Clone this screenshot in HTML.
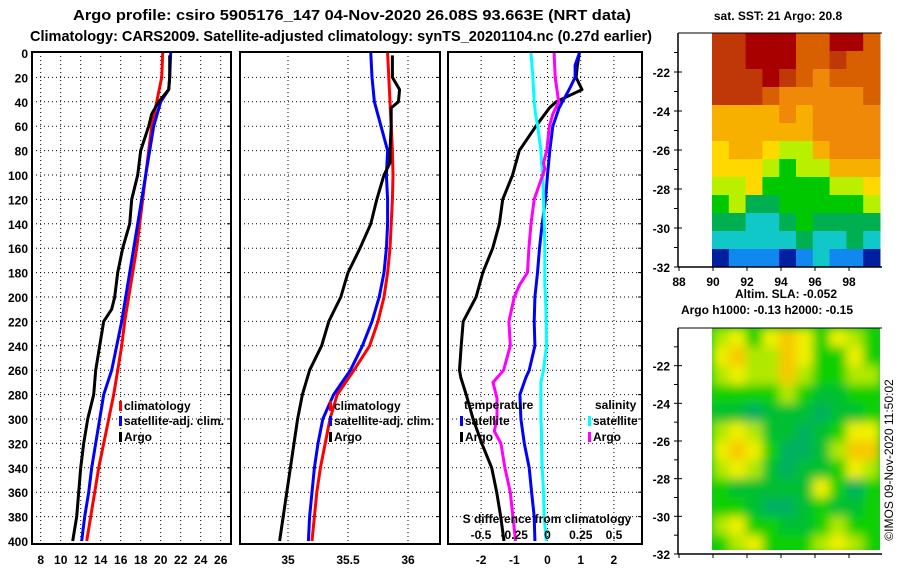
<!DOCTYPE html>
<html><head><meta charset="utf-8"><style>
html,body{margin:0;padding:0;background:#fff;}
svg{display:block;font-family:"Liberation Sans",Arial,sans-serif;font-weight:bold;}
</style></head><body>
<svg id="c" width="900" height="580" viewBox="0 0 900 580" xmlns="http://www.w3.org/2000/svg">
<defs><filter id="blur" x="-10%" y="-10%" width="120%" height="120%"><feGaussianBlur stdDeviation="5"/></filter><clipPath id="slaclip"><rect x="712" y="328" width="168" height="222"/></clipPath></defs>
<text x="73" y="20" textLength="558" lengthAdjust="spacingAndGlyphs" font-size="15">Argo profile: csiro 5905176_147 04-Nov-2020 26.08S 93.663E (NRT data)</text>
<text x="30" y="41" textLength="622" lengthAdjust="spacingAndGlyphs" font-size="15">Climatology: CARS2009. Satellite-adjusted climatology: synTS_20201104.nc (0.27d earlier)</text>
<g id="g"></g>
</svg>
<script>
// ---- data ----
const depths = [0,20,40,60,80,100,120,140,160,180,200,220,240,260,280,300,320,340,360,380,400];
const tempClim = [20.2,20.1,19.6,19.1,18.8,18.5,18.2,17.9,17.6,17.2,16.8,16.4,16.1,15.7,15.3,14.8,14.3,13.8,13.4,13.0,12.6];
const tempSatDepths = [0,20,30,40,60,80,100,120,140,160,180,200,220,240,260,280,300,320,340,360,380,400];
const tempSat = [21.0,20.9,20.8,20.0,19.3,18.9,18.5,18.1,17.7,17.3,16.9,16.5,16.1,15.6,15.1,14.3,13.9,13.5,13.1,12.8,12.4,12.1];
const tempArgoDepths = [2,20,30,40,50,60,80,100,120,140,160,180,200,210,220,240,260,280,300,320,340,360,380,400];
const tempArgo = [20.9,20.9,20.8,19.8,19.1,18.8,18.0,17.7,17.1,16.9,16.2,15.7,15.4,15.1,14.3,13.9,13.5,13.3,12.7,12.3,12.0,11.8,11.6,11.2];

const salDepths = [0,20,40,60,80,100,120,140,160,180,200,220,240,260,280,300,320,340,360,380,400];
const salSat  = [35.69,35.70,35.72,35.775,35.83,35.82,35.83,35.83,35.82,35.80,35.76,35.70,35.62,35.52,35.38,35.29,35.25,35.22,35.20,35.18,35.17];
const salClim = [35.83,35.84,35.85,35.86,35.87,35.875,35.87,35.86,35.85,35.83,35.80,35.75,35.68,35.55,35.41,35.35,35.31,35.27,35.24,35.22,35.20];
const salArgoDepths = [2,20,30,40,45,60,80,90,100,120,140,160,180,200,220,240,260,280,300,320,340,360,380,400];
const salArgo = [35.87,35.87,35.93,35.92,35.86,35.86,35.85,35.85,35.80,35.74,35.69,35.60,35.50,35.44,35.34,35.28,35.18,35.12,35.08,35.05,35.02,34.99,34.96,34.93];

const dDepths = [0,10,20,30,35,40,45,60,80,100,120,140,160,180,200,220,240,260,266,280,300,320,340,360,380,400];
const dTempArgo = [0.96,0.9,0.86,1.04,0.65,0.26,0.06,-0.35,-0.85,-1.05,-1.35,-1.45,-1.65,-1.95,-2.15,-2.54,-2.6,-2.65,-2.61,-2.45,-2.24,-1.98,-1.68,-1.53,-1.41,-1.31];
const dTempSat  = [0.96,0.83,0.83,0.65,0.55,0.45,0.35,0.16,0.07,0.0,-0.06,-0.16,-0.24,-0.3,-0.38,-0.4,-0.38,-0.55,-0.65,-0.83,-0.8,-0.7,-0.55,-0.48,-0.4,-0.38];
const sDepths = [0,20,40,50,60,80,90,95,100,120,140,160,180,190,200,220,240,260,270,283,300,310,320,340,360,380,400];
const dSalArgo = [0.05,0.058,0.084,0.04,0.014,-0.006,-0.03,-0.02,-0.036,-0.1,-0.124,-0.14,-0.15,-0.21,-0.25,-0.29,-0.28,-0.33,-0.41,-0.38,-0.38,-0.40,-0.35,-0.32,-0.28,-0.26,-0.24];
const dSalSat  = [-0.124,-0.11,-0.1,-0.09,-0.074,-0.05,-0.045,-0.04,-0.035,-0.03,-0.024,-0.02,-0.02,-0.02,-0.015,-0.01,-0.008,-0.03,-0.05,-0.05,-0.05,-0.045,-0.045,-0.04,-0.03,-0.025,-0.01];

const tempTicks = [8,10,12,14,16,18,20,22,24,26];
const salTicks = [35,35.5,36];
const salTickLabels = ["35","35.5","36"];
const diffTicks = [-2,-1,0,1,2];
const sdiffTicks = [-0.5,-0.25,0,0.25,0.5];
const sdiffLabels = ["-0.5","-0.25","0","0.25","0.5"];
const depthTicks = [0,20,40,60,80,100,120,140,160,180,200,220,240,260,280,300,320,340,360,380,400];

const sstGrid = [
[1,1,0,0,0,2,2,0,0,2],[1,1,0,0,0,2,2,1,2,2],[1,1,1,0,1,2,3,2,2,2],[1,1,1,2,3,3,3,3,3,2],
[4,4,4,4,3,4,3,3,3,3],[4,4,4,4,4,4,3,3,3,3],[5,4,4,5,6,6,4,3,3,3],[5,5,5,6,7,6,6,4,4,4],
[6,6,5,7,7,7,7,6,6,5],[7,6,8,8,7,7,7,7,7,6],[8,8,9,9,8,7,8,8,8,8],[9,9,9,9,9,8,9,9,8,9],
[11,10,10,10,11,10,9,10,10,11]];
const sstColors = ["#a80000","#c03808","#d86000","#f08808","#f8b000","#ffd800","#b8f000","#00c800","#00b050","#10c8c8","#1088f0","#0020a0"];
const slaGrid = [
[2,1,3,1,0,1,3,1,2,3],[1,0,2,2,0,1,3,3,1,3],[2,1,2,2,0,2,3,3,2,2],[3,3,3,3,2,3,4,4,3,3],
[4,4,5,4,4,4,5,4,4,3],[2,1,2,4,4,5,4,3,1,1],[1,0,1,3,5,5,4,2,0,0],[2,1,2,4,5,4,4,3,1,2],
[3,4,4,4,4,4,1,3,5,3],[3,3,4,5,5,4,3,4,4,3],[2,1,3,3,4,4,3,2,3,3],[3,2,1,3,3,3,2,1,2,3]];
const slaColors = ["#f8c800","#f0f000","#b0e800","#10d000","#00c030","#00b060"];
const mapLonTicks = [88,90,92,94,96,98];
const mapLatTicks = [-22,-24,-26,-28,-30,-32];

// ---- helpers ----
const NS="http://www.w3.org/2000/svg";
const G=document.getElementById('g');
function mk(tag,at,parent){const e=document.createElementNS(NS,tag);for(const k in at)e.setAttribute(k,at[k]);(parent||G).appendChild(e);return e;}
const TOP=52, BOT=544;
const yD = d => 53 + d*1.22;
const xT = t => 40.7 + (t-8)*10;
const xS = s => 288 + (s-35)*120;
const xDT = t => 547.5 + t*33.2;
const xDS = s => 547.5 + s*133;

function panel(name,x0,x1){
  for(const d of depthTicks){ if(d===0||d===400)continue;
    const l=mk('line',{x1:x0,x2:x1,y1:yD(d),y2:yD(d),stroke:'#000','stroke-width':1,'stroke-dasharray':'1,3'});
     
    const t1=mk('line',{x1:x1-4,x2:x1,y1:yD(d),y2:yD(d),stroke:'#000'});
     
  }
  const r=mk('rect',{x:x0,y:TOP,width:x1-x0,height:BOT-TOP,fill:'none',stroke:'#000','stroke-width':2});
   
}
function vgrid(name,xs){for(const x of xs){const l=mk('line',{x1:x,x2:x,y1:TOP,y2:BOT,stroke:'#000','stroke-width':1,'stroke-dasharray':'1,3'});
   }}
function line(name,ds,vs,fx,color){
  const pts=ds.map((d,i)=>fx(vs[i]).toFixed(1)+','+yD(d).toFixed(1)).join(' ');
  const p=mk('polyline',{points:pts,fill:'none',stroke:color,'stroke-width':3,'stroke-linejoin':'round'});
   
}
function txt(name,x,y,s,size,anchor,color){const t=mk('text',{x:x,y:y,'font-size':size||12,'text-anchor':anchor||'start',fill:color||'#000'});t.textContent=s;
   return t;}
function legend(name,x,y,color,label){
  const r=mk('rect',{x:x,y:y-9,width:3,height:10,fill:color});
   
  txt(name+'-label',x+5,y,label,12);
}

// panel 1 temperature
vgrid('temp',tempTicks.map(xT));
panel('temp-panel',32,231);
for(const d of depthTicks) txt('depth-tick-label',28,yD(d)+5,String(d),12,'end');
tempTicks.forEach(t=>txt('temp-tick-label',xT(t),564,String(t),12,'middle'));
line('temp-climatology-line',depths,tempClim,xT,'#ff0000');
line('temp-satellite-line',tempSatDepths,tempSat,xT,'#0000ff');
line('temp-argo-line',tempArgoDepths,tempArgo,xT,'#000');
legend('temp-legend-climatology',119,410,'#ff0000','climatology');
legend('temp-legend-satellite',119,425,'#0000ff','satellite-adj. clim.');
legend('temp-legend-argo',119,441,'#000','Argo');

// panel 2 salinity
vgrid('sal',salTicks.map(xS));
panel('sal-panel',240,440);
salTicks.forEach((s,i)=>txt('sal-tick-label',xS(s),564,salTickLabels[i],12,'middle'));
line('sal-climatology-line',salDepths,salClim,xS,'#ff0000');
line('sal-satellite-line',salDepths,salSat,xS,'#0000ff');
line('sal-argo-line',salArgoDepths,salArgo,xS,'#000');
legend('sal-legend-climatology',329,410,'#ff0000','climatology');
legend('sal-legend-satellite',329,425,'#0000ff','satellite-adj. clim.');
legend('sal-legend-argo',329,441,'#000','Argo');

// panel 3 differences
vgrid('diff',diffTicks.map(xDT));
panel('diff-panel',448,642);
diffTicks.forEach(t=>txt('diff-tick-label',xDT(t),564,String(t),12,'middle'));
line('diff-temp-argo-line',dDepths,dTempArgo,xDT,'#000');
line('diff-temp-satellite-line',dDepths,dTempSat,xDT,'#0000ff');
line('diff-sal-satellite-line',sDepths,dSalSat,xDS,'#00ffff');
line('diff-sal-argo-line',sDepths,dSalArgo,xDS,'#ff00ff');
txt('diff-legend-temperature-title',464,409,'temperature',12);
legend('diff-legend-temp-satellite',460,425,'#0000ff','satellite');
legend('diff-legend-temp-argo',460,441,'#000','Argo');
txt('diff-legend-salinity-title',595,409,'salinity',12);
legend('diff-legend-sal-satellite',588,425,'#00ffff','satellite');
legend('diff-legend-sal-argo',588,441,'#ff00ff','Argo');
txt('sdiff-axis-title',547,523,'S difference from climatology',12,'middle');
sdiffTicks.forEach((s,i)=>txt('sdiff-tick-label',xDS(s),539,sdiffLabels[i],12,'middle'));

// maps
const mx0=712,mx1=880;
const xLon = l => 713 + (l-90)*17;
function mapFrame(name,y0,y1){
  const yl = v => y0 + (-20 - v)*(y1-y0)/12;
  const f=mk('line',{x1:678,x2:678,y1:y0,y2:y1,stroke:'#000','stroke-width':1.5});
   
  const b=mk('line',{x1:678,x2:882,y1:y1,y2:y1,stroke:'#000','stroke-width':1.5});
   
  const tp=mk('line',{x1:678,x2:882,y1:y0,y2:y0,stroke:'#000','stroke-width':1});
   
  for(const v of mapLatTicks){
    const t=mk('line',{x1:674,x2:682,y1:yl(v),y2:yl(v),stroke:'#000'});
     
    txt(name+'-lat-label',670,yl(v)+5,String(v),12,'end');
  }
  for(const v of [-21,-23,-25,-27,-29,-31]){const t=mk('line',{x1:674,x2:678,y1:yl(v),y2:yl(v),stroke:'#000'});
     }
  for(const v of mapLonTicks){const t=mk('line',{x1:xLon(v),x2:xLon(v),y1:y1,y2:y1+4,stroke:'#000'});
     }
}
function heat(name,grid,colors,y0,y1,parent){
  const rows=grid.length, cols=grid[0].length, cw=(mx1-mx0)/cols, ch=(y1-y0)/rows;
  grid.forEach((row,r)=>row.forEach((v,c)=>{
    const e=mk('rect',{x:mx0+c*cw,y:y0+r*ch,width:cw+0.5,height:ch+0.5,fill:colors[v]},parent);
     
  }));
}
txt('sst-map-title',778,20,'sat. SST: 21 Argo: 20.8',12,'middle');
heat('sst-map',sstGrid,sstColors,33,267);
mapFrame('sst-map',33,267);
mapLonTicks.forEach(v=>txt('sst-map-lon-label',xLon(v),286,String(v),12,'middle'));

txt('sla-map-title-1',735,298,'Altim. SLA: -0.052',12,'start');
txt('sla-map-title-2',767,314,'Argo h1000: -0.13 h2000: -0.15',12,'middle');
const sg=mk('g',{'clip-path':'url(#slaclip)'});
 
const bg=mk('rect',{x:712,y:328,width:168,height:222,fill:'#10c828'},sg);
 
const sgi=mk('g',{filter:'url(#blur)'},sg);
heat('sla-map',slaGrid,slaColors,328,554,sgi);
mapFrame('sla-map',328,554);
const c=txt('imos-credit',0,0,'©IMOS 09-Nov-2020 11:50:02',12,'middle');
c.setAttribute('font-weight','normal');
c.setAttribute('transform','translate(893,460) rotate(-90)');
</script>
</body></html>
